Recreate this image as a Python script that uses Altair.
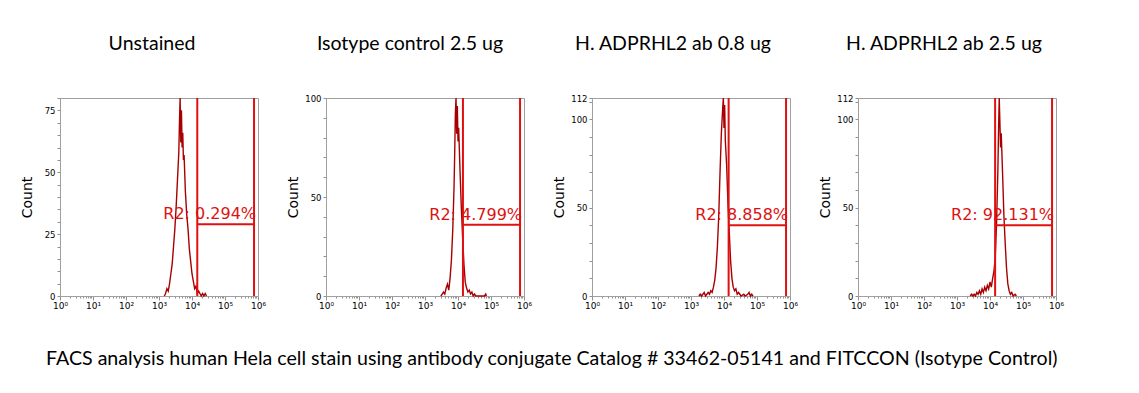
import altair as alt
import pandas as pd

panel_titles = ["Unstained", "Isotype control 2.5 ug", "H. ADPRHL2 ab 0.8 ug", "H. ADPRHL2 ab 2.5 ug"]
caption = "FACS analysis human Hela cell stain using antibody conjugate Catalog # 33462-05141 and FITCCON (Isotype Control)"

# histogram channels (log10 of fluorescence) and counts
p1_log = [3.16, 3.20, 3.24, 3.28, 3.32, 3.36, 3.40, 3.44, 3.48, 3.52, 3.56, 3.60, 3.62, 3.64, 3.66, 3.68, 3.70,
          3.72, 3.74, 3.76, 3.80, 3.84, 3.88, 3.92, 3.96, 4.00, 4.04, 4.08, 4.12, 4.16, 4.20, 4.24, 4.28, 4.32,
          4.36, 4.40, 4.44]
p1_count = [0, 1, 3, 2, 5, 9, 13, 20, 27, 36, 47, 58, 70, 80, 62, 75, 60,
            66, 55, 57, 42, 33, 27, 19, 14, 9, 6, 3, 4, 1, 2, 1, 0, 1,
            0, 1, 0]

p2_log = [3.48, 3.52, 3.56, 3.60, 3.64, 3.68, 3.72, 3.76, 3.80, 3.84, 3.88, 3.90, 3.92, 3.94, 3.96, 3.98, 4.00,
          4.02, 4.06, 4.10, 4.14, 4.18, 4.22, 4.26, 4.30, 4.34, 4.38, 4.42, 4.46, 4.50, 4.54, 4.80, 4.84, 4.86]
p2_count = [0, 1, 2, 1, 4, 6, 3, 9, 18, 33, 55, 72, 92, 100, 82, 96, 78,
            85, 64, 45, 30, 16, 7, 4, 2, 3, 1, 2, 0, 1, 0, 0, 1, 0]

p3_log = [3.24, 3.28, 3.32, 3.36, 3.40, 3.44, 3.48, 3.52, 3.56, 3.60, 3.64, 3.68, 3.72, 3.76, 3.80, 3.84, 3.88,
          3.92, 3.96, 3.98, 4.00, 4.02, 4.04, 4.08, 4.12, 4.16, 4.20, 4.24, 4.28, 4.32, 4.36, 4.40, 4.44, 4.48,
          4.52, 4.60, 4.64, 4.72, 4.76, 4.80, 4.84, 4.88]
p3_count = [0, 1, 0, 1, 2, 0, 1, 2, 1, 3, 2, 5, 9, 16, 28, 45, 70,
            92, 106, 112, 95, 108, 88, 74, 52, 36, 20, 10, 5, 3, 4, 1, 2, 1,
            0, 1, 0, 1, 2, 0, 1, 0]

p4_log = [3.40, 3.44, 3.48, 3.52, 3.56, 3.60, 3.64, 3.68, 3.72, 3.76, 3.80, 3.84, 3.88, 3.92, 3.96, 4.00, 4.04,
          4.08, 4.12, 4.16, 4.20, 4.24, 4.26, 4.28, 4.30, 4.32, 4.34, 4.38, 4.42, 4.46, 4.50, 4.54, 4.58, 4.62,
          4.66, 4.70, 4.76, 4.80]
p4_count = [0, 1, 0, 1, 0, 2, 1, 3, 1, 4, 2, 5, 3, 6, 4, 8, 5,
            10, 14, 22, 42, 72, 95, 112, 98, 84, 92, 70, 46, 30, 16, 7, 3, 1,
            2, 0, 1, 0]

hist_logs = [p1_log, p2_log, p3_log, p4_log]
hist_counts = [p1_count, p2_count, p3_count, p4_count]

gate_left = [4.16, 4.15, 4.14, 4.155]
gate_right = [5.88, 5.88, 5.88, 5.88]
gate_level = [29, 36, 40, 40]
gate_labels = ["R2: 0.294%", "R2: 4.799%", "R2: 8.858%", "R2: 92.131%"]
y_max = [80, 100, 112, 112]
y_major = [[0, 25, 50, 75], [0, 50, 100], [0, 50, 100, 112], [0, 50, 100, 112]]
y_minor_step = [5, 10, 10, 10]
title_dx = [-7, -15, -18, -13]

W, H = 198, 198
x_ticks = [m * 10 ** k for k in range(6) for m in range(1, 10)] + [10 ** 6]
decade_test = "abs(log(datum.value)/LN10 - round(log(datum.value)/LN10)) < 0.001"
sup = "['\u2070','\u00b9','\u00b2','\u00b3','\u2074','\u2075','\u2076']"


def panel(i):
    xscale = alt.Scale(type="log", domain=[1, 10 ** 6], nice=False)
    yscale = alt.Scale(domain=[0, y_max[i]], nice=False, zero=True)
    yvals = list(range(0, y_max[i] + 1, y_minor_step[i]))
    if y_max[i] not in yvals:
        yvals.append(y_max[i])
    major_test = " || ".join(f"datum.value == {v}" for v in y_major[i])
    xaxis = alt.Axis(
        values=x_ticks,
        labelExpr=f"{decade_test} ? '10' + {sup}[round(log(datum.value)/LN10)] : ''",
        tickSize={"condition": {"test": decade_test, "value": 4}, "value": 2},
        title=None, grid=False, labelFlush=False, labelPadding=1, labelOverlap=False,
        labelFontSize=9,
    )
    yaxis = alt.Axis(
        values=yvals,
        labelExpr=f"({major_test}) ? datum.label : ''",
        title="Count", grid=False, tickSize=3, labelPadding=2, labelOverlap=False,
        minExtent=22, maxExtent=22, titlePadding=4, labelFlush=False, labelFontSize=8.5,
    )
    df = pd.DataFrame({"x": [10 ** v for v in hist_logs[i]], "y": hist_counts[i]})
    line = alt.Chart(df).mark_line(color="#a80000", strokeWidth=1.4).encode(
        x=alt.X("x:Q", scale=xscale, axis=xaxis),
        y=alt.Y("y:Q", scale=yscale, axis=yaxis),
    )
    gates = pd.DataFrame({"x": [10 ** gate_left[i], 10 ** gate_right[i]]})
    vrules = alt.Chart(gates).mark_rule(color="#e01010", strokeWidth=2).encode(
        x=alt.X("x:Q", scale=xscale, axis=xaxis)
    )
    seg = pd.DataFrame({"x": [10 ** gate_left[i]], "x2": [10 ** gate_right[i]], "y": [gate_level[i]]})
    hrule = alt.Chart(seg).mark_rule(color="#e01010", strokeWidth=2).encode(
        x=alt.X("x:Q", scale=xscale, axis=xaxis), x2="x2:Q",
        y=alt.Y("y:Q", scale=yscale, axis=yaxis),
    )
    lab = pd.DataFrame({"x": [10 ** gate_right[i]], "y": [gate_level[i]], "label": [gate_labels[i]]})
    text = alt.Chart(lab).mark_text(
        align="right", baseline="bottom", dy=-2, dx=2, color="#dd1111",
        font="DejaVu Sans", fontSize=16,
    ).encode(x=alt.X("x:Q", scale=xscale, axis=xaxis),
             y=alt.Y("y:Q", scale=yscale, axis=yaxis), text="label:N")
    return alt.layer(line, vrules, hrule, text).properties(
        width=W, height=H,
        title=alt.TitleParams(panel_titles[i], dx=title_dx[i], frame="group", anchor="middle",
                              offset=40, font="Lato", fontSize=19.5, fontWeight="normal", color="black"),
    )


chart = alt.hconcat(panel(0), panel(1), panel(2), panel(3), spacing=68, bounds="flush").properties(
    title=alt.TitleParams(caption, orient="bottom", anchor="middle", offset=39, dx=10,
                          font="Lato", fontSize=19.6, fontWeight="normal", color="black"),
    padding={"left": 11, "top": 25, "right": 5, "bottom": 5},
).configure_view(
    stroke="#a0a0a0", strokeWidth=1
).configure_axis(
    domainColor="#a0a0a0", tickColor="#909090", labelColor="black",
    labelFont="DejaVu Sans", labelFontSize=8,
    titleFont="DejaVu Sans", titleFontSize=14, titleFontWeight="normal", titleColor="black",
)

chart.save("out.html", embed_options={"renderer": "svg", "actions": False})
